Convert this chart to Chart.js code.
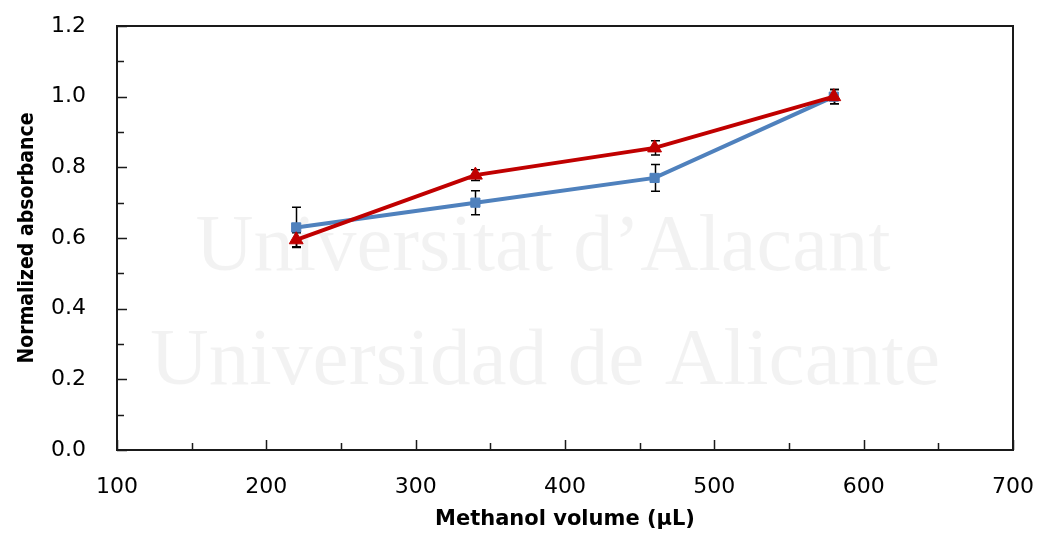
<!DOCTYPE html>
<html>
<head>
<meta charset="utf-8">
<script src="https://cdn.jsdelivr.net/npm/chart.js@4/dist/chart.umd.min.js"></script>
<style>
  html, body { margin: 0; padding: 0; background: #ffffff; }
  #wrap { width: 1041px; height: 536px; position: relative; }
</style>
</head>
<body>
<div id="wrap"><canvas id="c"></canvas></div>
<script>
// Methanol volume (µL) for each measurement
const volumes = [220, 340, 460, 580];

// Normalized absorbance, square-marker series, with standard deviation
const squareSeries = [0.63, 0.70, 0.77, 1.00];
const squareError  = [0.057, 0.034, 0.038, 0.02];

// Normalized absorbance, triangle-marker series, with standard deviation
const triangleSeries = [0.595, 0.778, 0.855, 1.00];
const triangleError  = [0.02, 0.015, 0.02, 0.02];

// Axis ranges and tick steps
const xRange = [100, 700];
const xMajorStep = 100;
const xMinorStep = 50;
const yRange = [0, 1.2];
const yMajorStep = 0.2;
const yMinorStep = 0.1;

// Background institutional watermark lines
const watermarkLines = ["Universitat d\u2019Alacant", "Universidad de Alicante"];

const toPoints = (xs, ys) => xs.map((x, i) => ({ x: x, y: ys[i] }));

const BLUE = '#4f81bd';
const RED = '#c00000';
const FRAME = '#1a1a1a';

// Faint watermark text behind the plot
const watermarkPlugin = {
  id: 'watermark',
  beforeDatasetsDraw(chart) {
    const ctx = chart.ctx;
    ctx.save();
    ctx.fillStyle = 'rgba(0,0,0,0.05)';
    ctx.textAlign = 'center';
    ctx.textBaseline = 'alphabetic';
    const specs = [
      { cx: 543, base: 270, width: 695 },
      { cx: 545, base: 384, width: 790 }
    ];
    watermarkLines.forEach((t, i) => {
      const s = specs[i];
      ctx.font = '100px "Liberation Serif", "DejaVu Serif", serif';
      const w = ctx.measureText(t).width;
      const size = 100 * s.width / w;
      ctx.font = size.toFixed(1) + 'px "Liberation Serif", "DejaVu Serif", serif';
      ctx.fillText(t, s.cx, s.base);
    });
    ctx.restore();
  }
};

// Plot frame with inward major/minor tick marks on the left and bottom
const framePlugin = {
  id: 'frameTicks',
  beforeDatasetsDraw(chart) {
    const { ctx, chartArea: a, scales } = chart;
    const xs = scales.x, ys = scales.y;
    ctx.save();
    ctx.strokeStyle = FRAME;
    ctx.lineWidth = 2;
    ctx.strokeRect(a.left, a.top, a.right - a.left, a.bottom - a.top);
    ctx.lineWidth = 1.5;
    ctx.beginPath();
    for (let v = xRange[0]; v <= xRange[1] + 1e-9; v += xMinorStep) {
      const px = Math.round(xs.getPixelForValue(v)) + 0.5;
      const major = Math.abs((v - xRange[0]) % xMajorStep) < 1e-6;
      const len = major ? 10 : 7;
      ctx.moveTo(px, a.bottom);
      ctx.lineTo(px, a.bottom - len);
    }
    for (let k = 0; k <= Math.round((yRange[1] - yRange[0]) / yMinorStep); k++) {
      const v = yRange[0] + k * yMinorStep;
      const py = Math.round(ys.getPixelForValue(v)) + 0.5;
      const major = k % Math.round(yMajorStep / yMinorStep) === 0;
      const len = major ? 10 : 7;
      ctx.moveTo(a.left, py);
      ctx.lineTo(a.left + len, py);
    }
    ctx.stroke();
    ctx.restore();
  }
};

// Vertical error bars with caps, drawn under the markers
const errorBarPlugin = {
  id: 'errorBars',
  beforeDatasetsDraw(chart) {
    const { ctx, scales } = chart;
    const xs = scales.x, ys = scales.y;
    ctx.save();
    ctx.strokeStyle = '#000000';
    ctx.lineWidth = 1.5;
    chart.data.datasets.forEach(ds => {
      const errs = ds.errors || [];
      ds.data.forEach((p, i) => {
        const e = errs[i];
        if (!e) return;
        const px = Math.round(xs.getPixelForValue(p.x)) + 0.5;
        const top = ys.getPixelForValue(p.y + e);
        const bot = ys.getPixelForValue(p.y - e);
        const cap = 4.5;
        ctx.beginPath();
        ctx.moveTo(px, top); ctx.lineTo(px, bot);
        ctx.moveTo(px - cap, top); ctx.lineTo(px + cap, top);
        ctx.moveTo(px - cap, bot); ctx.lineTo(px + cap, bot);
        ctx.stroke();
      });
    });
    ctx.restore();
  }
};

const tickFont = { family: '"DejaVu Sans", "Open Sans", sans-serif', size: 22 };

new Chart(document.getElementById('c'), {
  type: 'line',
  data: {
    datasets: [
      {
        label: 'Triangle series',
        data: toPoints(volumes, triangleSeries),
        errors: triangleError,
        borderColor: RED,
        backgroundColor: RED,
        borderWidth: 4,
        pointStyle: 'triangle',
        pointRadius: 8,
        pointBorderWidth: 1,
        pointBorderColor: RED,
        pointBackgroundColor: RED,
        tension: 0,
        order: 0
      },
      {
        label: 'Square series',
        data: toPoints(volumes, squareSeries),
        errors: squareError,
        borderColor: BLUE,
        backgroundColor: BLUE,
        borderWidth: 4,
        pointStyle: 'rect',
        pointRadius: 6.5,
        pointBorderWidth: 1,
        pointBorderColor: BLUE,
        pointBackgroundColor: BLUE,
        tension: 0,
        order: 1
      }
    ]
  },
  options: {
    responsive: true,
    maintainAspectRatio: false,
    animation: false,
    events: [],
    layout: { padding: { top: 26, right: 28, left: 0, bottom: 0 } },
    plugins: {
      legend: { display: false },
      tooltip: { enabled: false }
    },
    scales: {
      x: {
        type: 'linear',
        min: xRange[0],
        max: xRange[1],
        grid: { display: false, drawTicks: false },
        border: { display: false },
        ticks: {
          stepSize: xMajorStep,
          padding: 24,
          color: '#000000',
          font: tickFont,
          maxRotation: 0,
          autoSkip: false
        },
        title: {
          display: true,
          text: 'Methanol volume (\u00b5L)',
          color: '#000000',
          font: { family: '"DejaVu Sans", "Open Sans", sans-serif', size: 21, weight: 'bold' },
          padding: { top: 0, bottom: 4 }
        },
        afterFit(scale) {
          scale.height = 86;
          scale.paddingLeft = 0;
          scale.paddingRight = 0;
        }
      },
      y: {
        type: 'linear',
        min: yRange[0],
        max: yRange[1],
        grid: { display: false, drawTicks: false },
        border: { display: false },
        ticks: {
          stepSize: yMajorStep,
          padding: 31,
          color: '#000000',
          font: tickFont,
          callback: v => Number(v).toFixed(1)
        },
        title: {
          display: true,
          text: 'Normalized absorbance',
          color: '#000000',
          font: { family: '"DejaVu Sans Condensed", "Liberation Sans Narrow", Roboto, sans-serif', size: 21, weight: 'bold' },
          padding: { top: 15, bottom: 0 }
        },
        afterFit(scale) {
          scale.width = 117;
          scale.paddingTop = 0;
          scale.paddingBottom = 0;
        }
      }
    }
  },
  plugins: [watermarkPlugin, framePlugin, errorBarPlugin]
});
</script>
</body>
</html>
